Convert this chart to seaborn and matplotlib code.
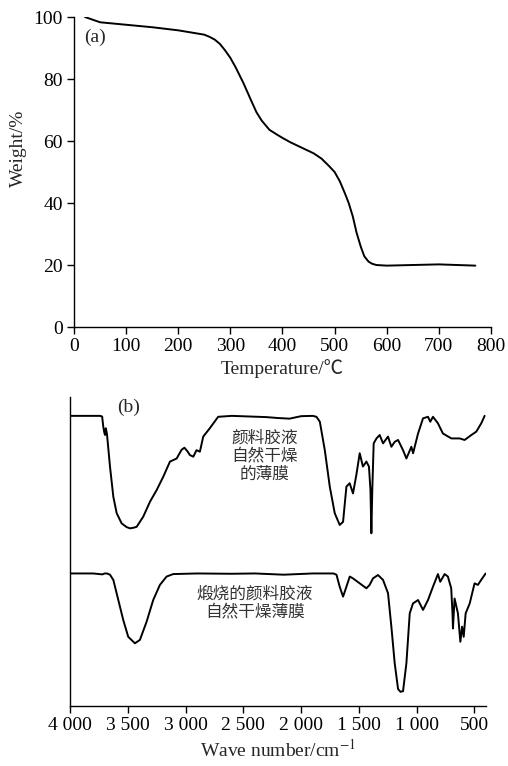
import numpy as np
import pandas as pd
import matplotlib
matplotlib.use("Agg")
import matplotlib.pyplot as plt
import seaborn as sns

# TGA curve (a)
temp = [21, 50, 100, 150, 200, 250, 260, 270, 280, 290, 300, 310, 325, 340, 350,
        360, 375, 390, 400, 415, 440, 460, 475, 490, 500, 510, 520, 527, 535, 542,
        550, 557, 565, 572, 580, 600, 650, 700, 770]
weight = [100, 98.3, 97.5, 96.7, 95.7, 94.3, 93.6, 92.7, 91.3, 89.2, 86.8, 83.8,
          78.7, 73.0, 69.3, 66.6, 63.6, 62.0, 61.0, 59.6, 57.6, 56.0, 54.3, 51.8,
          50.0, 47.0, 43.0, 40.0, 35.6, 30.5, 26.0, 22.8, 21.1, 20.4, 20.0, 19.8,
          20.0, 20.2, 19.8]

# FTIR (b), upper trace: film dried from pigment colloid
top_wn = [4000, 3850, 3740, 3722, 3712, 3703, 3697, 3690, 3680, 3654, 3625, 3596,
          3553, 3510, 3481, 3450, 3423, 3366, 3308, 3250, 3193, 3135, 3077, 3035,
          3010, 2985, 2962, 2933, 2905, 2876, 2847, 2790, 2718, 2600, 2450, 2300,
          2200, 2100, 2000, 1900, 1867, 1838, 1795, 1752, 1709, 1666, 1637, 1608,
          1580, 1551, 1522, 1493, 1465, 1435, 1413, 1400, 1392, 1384, 1372, 1348,
          1320, 1291, 1248, 1219, 1190, 1161, 1118, 1089, 1046, 1031, 988, 945,
          902, 882, 859, 816, 773, 700, 628, 585, 527, 484, 441, 412]
top_t = [93.9, 93.9, 93.9, 93.7, 90.4, 88.5, 87.7, 89.9, 88.0, 77.5, 67.7, 62.4,
         59.1, 57.9, 57.5, 57.7, 58.0, 61.3, 66.1, 69.9, 74.2, 79.1, 80.1, 82.9,
         83.6, 82.5, 81.2, 80.7, 82.8, 82.3, 87.2, 89.9, 93.6, 93.9, 93.7, 93.5,
         93.2, 93.0, 93.8, 93.9, 93.6, 92.0, 82.8, 71.0, 62.4, 58.6, 59.6, 71.0,
         72.1, 68.8, 74.8, 81.8, 77.5, 79.1, 77.5, 70.0, 55.9, 70.0, 85.0, 86.6,
         87.7, 85.0, 87.2, 83.9, 85.5, 86.1, 82.8, 80.1, 83.9, 81.8, 88.2, 93.1,
         93.6, 92.0, 93.6, 91.5, 88.2, 86.6, 86.6, 86.1, 87.7, 88.8, 91.5, 93.9]

# FTIR (b), lower trace: calcined colloid film
bot_wn = [4000, 3800, 3720, 3700, 3680, 3654, 3625, 3582, 3539, 3496, 3438, 3395,
          3337, 3280, 3222, 3164, 3107, 2900, 2600, 2400, 2150, 1900, 1720, 1694,
          1666, 1637, 1608, 1579, 1551, 1493, 1435, 1407, 1378, 1335, 1291, 1248,
          1219, 1190, 1161, 1140, 1118, 1089, 1060, 1032, 988, 945, 902, 859, 816,
          796, 758, 730, 701, 690, 686, 672, 643, 622, 607, 593, 576, 541, 499,
          470, 442, 403]
bot_t = [42.9, 42.9, 42.6, 42.9, 42.9, 42.5, 40.8, 34.3, 27.8, 22.4, 20.3, 21.4,
         27.3, 34.3, 39.2, 41.9, 42.7, 42.9, 42.8, 42.9, 42.5, 42.9, 42.9, 42.5,
         38.6, 35.4, 38.6, 41.9, 41.3, 39.7, 38.1, 39.2, 41.3, 42.4, 40.8, 36.5,
         25.7, 13.8, 5.5, 4.6, 4.8, 13.8, 30.0, 33.2, 34.3, 31.1, 34.3, 38.6, 42.7,
         40.2, 42.7, 41.9, 38.1, 30.0, 25.1, 34.8, 30.0, 20.8, 25.7, 22.4, 30.0,
         33.2, 39.7, 39.2, 40.8, 42.9]

wn_ticks = [4000, 3500, 3000, 2500, 2000, 1500, 1000, 500]
wn_labels = ["4 000", "3 500", "3 000", "2 500", "2 000", "1 500", "1 000", "500"]

sns.set_theme(style="ticks")
plt.rcParams["font.family"] = ["Liberation Serif", "Noto Sans CJK SC", "DejaVu Sans"]
plt.rcParams["mathtext.fontset"] = "stix"
plt.rcParams["font.size"] = 14
plt.rcParams["xtick.labelsize"] = 14
plt.rcParams["ytick.labelsize"] = 14
plt.rcParams["axes.labelsize"] = 14
plt.rcParams["xtick.direction"] = "out"
plt.rcParams["ytick.direction"] = "out"

fig = plt.figure(figsize=(5.08, 7.66), dpi=100)
ax1 = fig.add_axes([0.1457, 0.5731, 0.8208, 0.4047])
ax2 = fig.add_axes([0.1378, 0.0783, 0.8189, 0.4034])

tga = pd.DataFrame({"temp": temp, "weight": weight})
sns.lineplot(data=tga, x="temp", y="weight", ax=ax1, color="black", lw=1.4)
ax1.set_xlim(0, 800)
ax1.set_ylim(0, 100)
ax1.set_xticks(range(0, 801, 100))
ax1.set_yticks(range(0, 101, 20))
ax1.set_xlabel("Temperature/℃", labelpad=3)
ax1.set_ylabel("Weight/%")
ax1.yaxis.set_label_coords(-0.112, 0.577)
ax1.text(20, 93.4, "(a)", va="center", ha="left", fontsize=14)

ir_top = pd.DataFrame({"wn": top_wn, "t": top_t})
ir_bot = pd.DataFrame({"wn": bot_wn, "t": bot_t})
sns.lineplot(data=ir_top, x="wn", y="t", ax=ax2, color="black", lw=1.4)
sns.lineplot(data=ir_bot, x="wn", y="t", ax=ax2, color="black", lw=1.4)
ax2.set_xlim(4000, 400)
ax2.set_ylim(0, 100)
ax2.set_xticks(wn_ticks)
ax2.set_xticklabels(wn_labels)
ax2.set_yticks([])
ax2.set_ylabel("")
ax2.set_xlabel("Wave number/cm$^{-1}$", labelpad=3)
ax2.text(3594, 96.6, "(b)", va="center", ha="left", fontsize=14)
ax2.text(2314, 80.9, "颜料胶液\n自然干燥\n的薄膜", ha="center", va="center",
         fontsize=12, color="#333333", family=["Noto Sans CJK SC"], linespacing=1.1)
ax2.text(2400, 33.3, "煅烧的颜料胶液\n自然干燥薄膜", ha="center", va="center",
         fontsize=12, color="#333333", family=["Noto Sans CJK SC"], linespacing=1.1)

for ax in (ax1, ax2):
    sns.despine(ax=ax)
    ax.tick_params(length=5, width=1, colors="black", pad=3)
    for s in ("left", "bottom"):
        ax.spines[s].set_linewidth(1)
        ax.spines[s].set_color("black")

fig.savefig("out.png", dpi=100)
